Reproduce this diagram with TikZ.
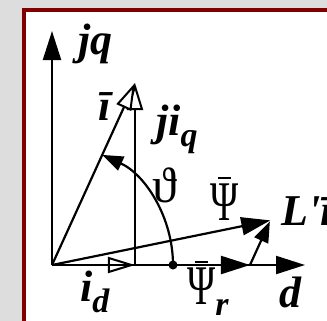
\documentclass[tikz,border=0pt]{standalone}
\usepackage{fontspec}
\usepackage{graphicx}
\setmainfont{Liberation Serif}
\usetikzlibrary{arrows.meta}
\definecolor{bggray}{RGB}{221,221,221}
\definecolor{framered}{RGB}{128,0,0}
\newcommand{\mysub}[1]{\raisebox{-0.25em}{\fontsize{34bp}{34bp}\selectfont\bfseries\itshape #1}}
\newcommand{\barpsi}{\leavevmode\setbox0\hbox{\scalebox{0.68}[1]{\fontsize{56bp}{58bp}\selectfont\mdseries\upshape Ψ}}\rlap{\hbox to \wd0{\hss\rule[\dimexpr\ht0+4bp\relax]{13bp}{2.5bp}\hss}}\box0}
\begin{document}
\begin{tikzpicture}[x=1bp,y=-1bp,
  vec/.style={line width=2.2bp},
  bighead/.style={-{Triangle[length=29bp,width=18bp]}},
  openhead/.style={-{Triangle[open,fill=white,length=27bp,width=16bp,line width=2bp]}},
  smallhead/.style={-{Triangle[length=21bp,width=15bp]}},
  lbl/.style={inner sep=0pt,font=\fontsize{44bp}{46bp}\selectfont\bfseries\itshape},
  lblr/.style={inner sep=0pt,font=\fontsize{44bp}{46bp}\selectfont}]
\useasboundingbox (0,0) rectangle (327,321);
\fill[bggray] (0,0) rectangle (327,321);
\draw[framered,line width=4bp,fill=white] (24,10) rectangle (360,360);
% points
\coordinate (O) at (52,265);
\coordinate (Q) at (52,31);
\coordinate (D) at (305,265);
\coordinate (Id) at (135,265);
\coordinate (Iq0) at (135,265);
\coordinate (I) at (135,83);
\coordinate (Pr) at (250,265);
\coordinate (Ps) at (270.3,220.4);
\coordinate (Dot) at (173,265);
% axes
\draw[vec,bighead] (O) -- (Q);
\draw[vec,bighead] (O) -- (D);
% current components
\draw[vec,openhead] (O) -- (Id);
\draw[vec,openhead] (Iq0) -- (I);
\draw[vec,openhead] (O) -- (I);
% flux
\draw[vec,bighead] (O) -- (Pr);
\draw[vec,bighead] (O) -- (Ps);
\draw[vec,smallhead,shorten >=1bp] (Pr) -- (Ps);
% angle arc
\draw[vec,smallhead] (Dot) arc[start angle=0,end angle=-65.5,radius=121];
\fill (Dot) circle[radius=4.5bp];
% labels
\node[lbl,anchor=base west] (ljq) at (78,54) {jq};
\node[lbl,anchor=base west] (li) at (98,120) {ī};
\node[lbl,anchor=base west] (ljiq) at (156,135) {ji\mysub{q}};
\node[lblr,font=\fontsize{50bp}{52bp}\selectfont] (lth) at (165,185) {ϑ};
\node[lblr,anchor=base] (lpsi) at (225,220) {\barpsi};
\node[lbl,anchor=base west] (lli) at (281,225) {L\textquotesingle ī};
\node[lblr,anchor=base west] (lpr) at (187,304) {\barpsi\mysub{r}};
\node[lbl,anchor=base west] (lid) at (80,301) {i\mysub{d}};
\node[lbl,anchor=base west] (ld) at (279,307) {d};
\end{tikzpicture}
\end{document}
